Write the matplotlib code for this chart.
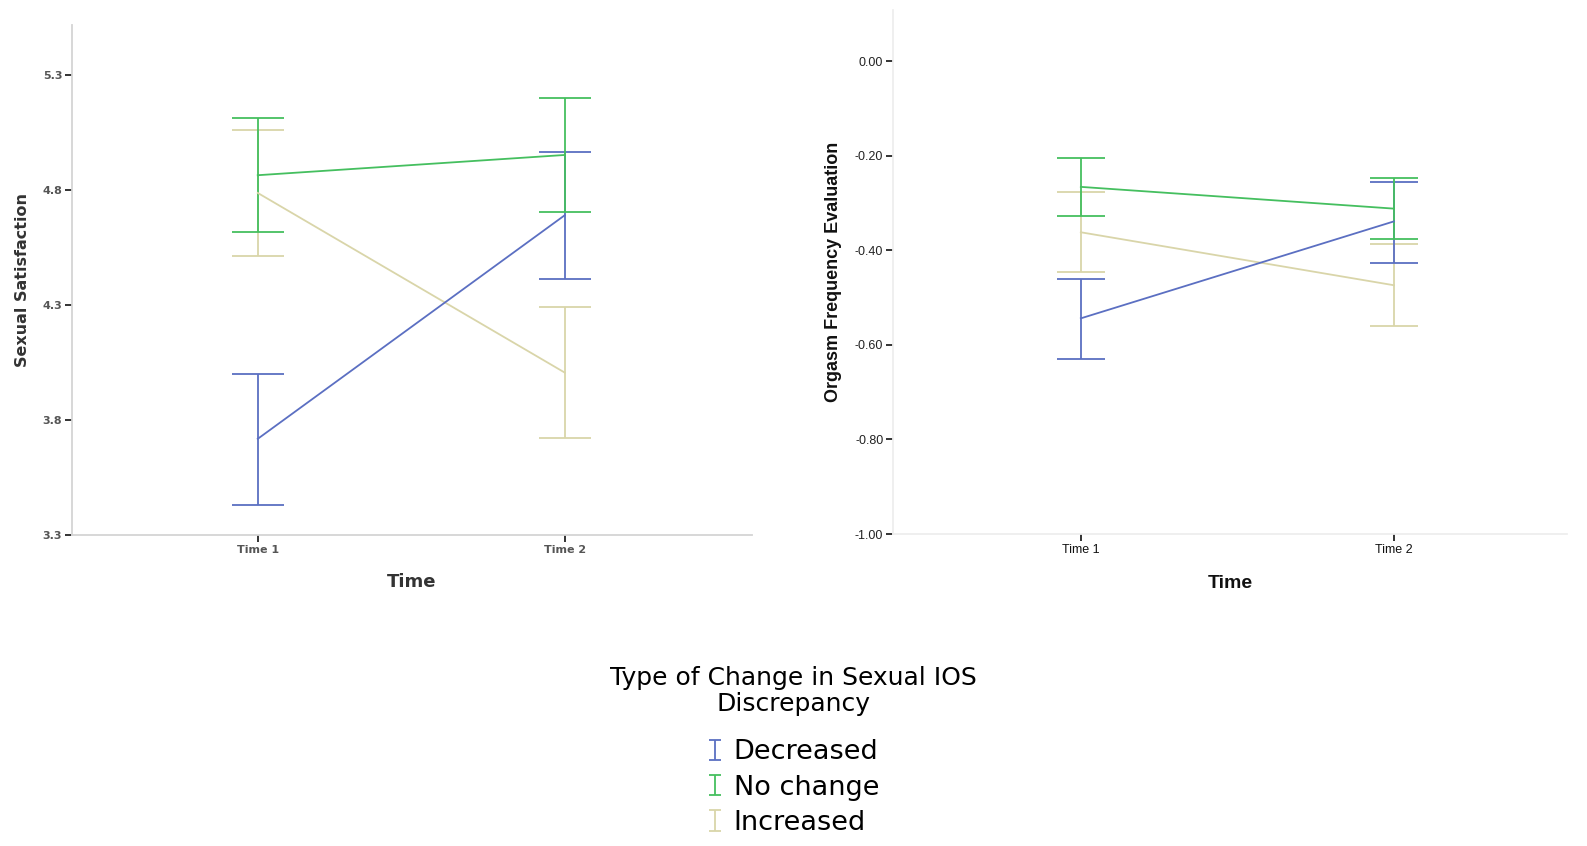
import matplotlib.pyplot as plt
from matplotlib.legend_handler import HandlerErrorbar
from matplotlib.container import ErrorbarContainer

# Data
times = ['Time 1', 'Time 2']
groups = ['Decreased', 'No change', 'Increased']

# Sexual satisfaction: means and CI bounds per group, [Time 1, Time 2]
sat_mean = {'Decreased': [3.718, 4.69], 'No change': [4.864, 4.952], 'Increased': [4.787, 4.006]}
sat_low = {'Decreased': [3.432, 4.413], 'No change': [4.615, 4.703], 'Increased': [4.512, 3.720]}
sat_high = {'Decreased': [4.001, 4.964], 'No change': [5.111, 5.198], 'Increased': [5.062, 4.292]}

# Orgasm frequency evaluation
org_mean = {'Decreased': [-0.544, -0.339], 'No change': [-0.266, -0.312], 'Increased': [-0.362, -0.474]}
org_low = {'Decreased': [-0.629, -0.428], 'No change': [-0.328, -0.376], 'Increased': [-0.447, -0.561]}
org_high = {'Decreased': [-0.460, -0.255], 'No change': [-0.204, -0.247], 'Increased': [-0.276, -0.387]}

colors = {'Decreased': '#5b6fc2', 'No change': '#45bf5f', 'Increased': '#d9d5a9'}

fig = plt.figure(figsize=(15.87, 8.46), dpi=100)
W, H = 1587, 846


def px_axes(x0, x1, y0, y1):
    # pixel box -> figure fraction
    return fig.add_axes([x0 / W, 1 - y1 / H, (x1 - x0) / W, (y1 - y0) / H])


def draw_panel(ax, means, lows, highs, capsize, spine_color):
    xs = [1, 2]
    for g in ['Increased', 'Decreased', 'No change']:
        m = means[g]
        err = [[m[i] - lows[g][i] for i in range(2)], [highs[g][i] - m[i] for i in range(2)]]
        ax.errorbar(xs, m, yerr=err, color=colors[g], lw=1.3, elinewidth=1.3,
                    capsize=capsize, capthick=1.3)
    ax.set_xticks(xs)
    for s in ['top', 'right']:
        ax.spines[s].set_visible(False)
    for s in ['left', 'bottom']:
        ax.spines[s].set_color(spine_color)
        ax.spines[s].set_linewidth(1.3)
    ax.tick_params(axis='both', length=5, width=1.4, color='#333333', pad=2)


# Left panel
ax1 = px_axes(72, 752, 25, 535)
draw_panel(ax1, sat_mean, sat_low, sat_high, 19, '#d4d4d4')
ax1.set_xlim(0.395, 2.61)
ax1.set_ylim(3.3, 5.517)
ax1.set_xticklabels(times, family='DejaVu Sans', fontsize=8, fontweight='bold', color='#555555')
ax1.set_yticks([3.3, 3.8, 4.3, 4.8, 5.3])
ax1.set_yticklabels(['3.3', '3.8', '4.3', '4.8', '5.3'], family='DejaVu Sans',
                    fontsize=8, fontweight='bold', color='#555555')
ax1.set_ylabel('Sexual Satisfaction', family='DejaVu Sans', fontsize=11.5,
               fontweight='bold', color='#333333', labelpad=9)
ax1.set_xlabel('Time', family='DejaVu Sans', fontsize=13, fontweight='bold',
               color='#333333', labelpad=13)

# Right panel
ax2 = px_axes(893, 1567, 10, 534)
draw_panel(ax2, org_mean, org_low, org_high, 17, '#eeeeee')
ax2.set_xlim(0.4, 2.553)
ax2.set_ylim(-1.0, 0.108)
ax2.set_xticklabels(times, family='Liberation Sans', fontsize=9, color='#111111')
ax2.set_yticks([-1.0, -0.8, -0.6, -0.4, -0.2, 0.0])
ax2.set_yticklabels(['-1.00', '-0.80', '-0.60', '-0.40', '-0.20', '0.00'],
                    family='Liberation Sans', fontsize=9, color='#222222')
ax2.set_ylabel('Orgasm Frequency Evaluation', family='Liberation Sans', fontsize=13,
               fontweight='bold', color='#111111', labelpad=9)
ax2.set_xlabel('Time', family='Liberation Sans', fontsize=14, fontweight='bold',
               color='#111111', labelpad=14)

# Legend with error-bar ("I") handles
eb_handles = []
for g in groups:
    c = ax1.errorbar([-10], [-10], yerr=[[1], [1]], fmt='none', color=colors[g],
                     elinewidth=1.3, capsize=4, capthick=1.3)
    eb_handles.append(c)
leg = fig.legend(eb_handles, groups, loc='upper center', bbox_to_anchor=(0.5, 1 - 655 / H),
                 frameon=False, prop={'family': 'DejaVu Sans', 'size': 19.5},
                 title='Type of Change in Sexual IOS\nDiscrepancy',
                 title_fontproperties={'family': 'DejaVu Sans', 'size': 18},
                 handlelength=0.5, handletextpad=0.45, labelspacing=0.34,
                 borderaxespad=0,
                 handler_map={ErrorbarContainer: HandlerErrorbar(yerr_size=0.38)})
leg.get_title().set_multialignment('center')
leg.get_title().set_linespacing(1.1)
leg._legend_box.sep = 17

fig.savefig('out.png', dpi=100)
